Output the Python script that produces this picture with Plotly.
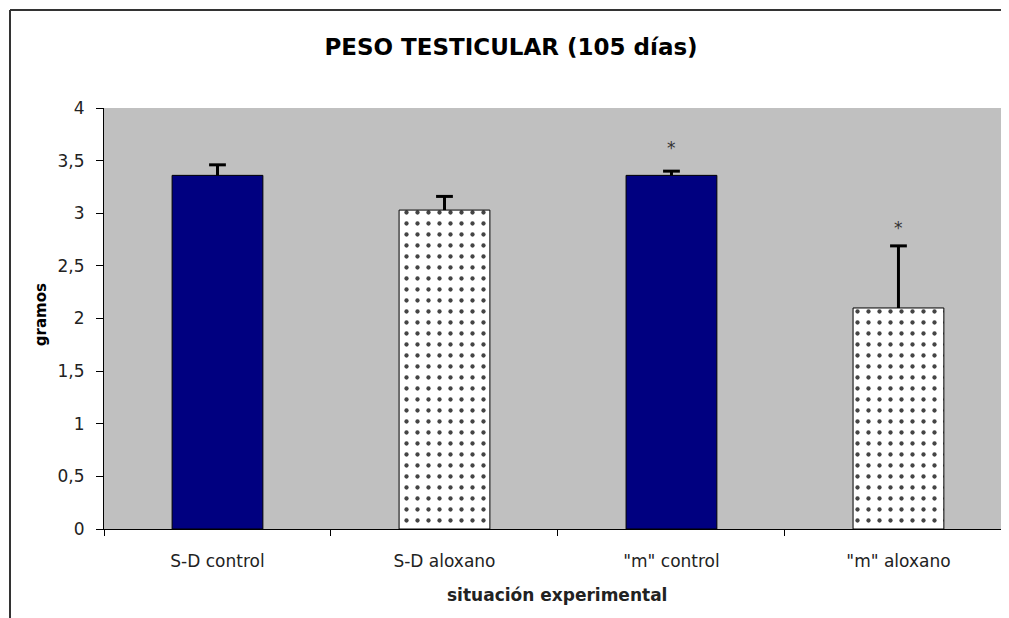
import plotly.graph_objects as go

categories = ["S-D control", "S-D aloxano", "\"m\" control", "\"m\" aloxano"]
values = [3.36, 3.03, 3.36, 2.10]
errors_up = [0.10, 0.13, 0.04, 0.59]
patterned = [False, True, False, True]
star_labels = ["", "", "*", "*"]
star_y = [None, None, 3.62, 2.86]
y_ticks = [0, 0.5, 1, 1.5, 2, 2.5, 3, 3.5, 4]

NAVY = "#000080"
FONT = "DejaVu Sans, Liberation Sans, sans-serif"

# page body has an 8px offset; figure sized so the plot sits where the reference has it
W, H = 1001, 610
ML, MT, MB = 96, 100, 89
PW, PH = W - ML, H - MT - MB

fig = go.Figure()
fig.add_trace(go.Bar(
    x=categories,
    y=values,
    marker=dict(
        color=["white" if p else NAVY for p in patterned],
        line=dict(color="black", width=1),
        pattern=dict(
            shape=["." if p else "" for p in patterned],
            fgcolor=NAVY,
            fgopacity=1,
            size=11,
            solidity=0.12,
            fillmode="overlay",
        ),
    ),
    showlegend=False,
    hoverinfo="x+y",
))

# upward-only error bars: stems from bar top to top + error, with a cap
stem_x, stem_y = [], []
for c, v, e in zip(categories, values, errors_up):
    stem_x += [c, c, None]
    stem_y += [v, v + e, None]
fig.add_trace(go.Scatter(
    x=stem_x, y=stem_y, mode="lines",
    line=dict(color="black", width=3),
    showlegend=False, hoverinfo="skip",
))
fig.add_trace(go.Scatter(
    x=categories, y=[v + e for v, e in zip(values, errors_up)], mode="markers",
    marker=dict(symbol="line-ew-open", size=12, color="black", line=dict(color="black", width=3)),
    showlegend=False, hoverinfo="skip",
))

for c, lab, yy in zip(categories, star_labels, star_y):
    if lab:
        fig.add_annotation(x=c, y=yy, text=lab, showarrow=False,
                           font=dict(family=FONT, size=17, color="#333333"))

# axis titles
fig.add_annotation(xref="paper", yref="paper", x=-63 / PW, y=0.508, text="<b>gramos</b>",
                   textangle=-90, showarrow=False, xanchor="center", yanchor="middle",
                   font=dict(family=FONT, size=15, color="black"))
fig.add_annotation(xref="paper", yref="paper", x=0.5, y=-66 / PH, text="<b>situación experimental</b>",
                   showarrow=False, xanchor="center", yanchor="middle",
                   font=dict(family=FONT, size=17, color="#222222"))

# outer chart border (left and top)
bx = -94 / PW
by = 1 + 98 / PH
fig.add_shape(type="line", xref="paper", yref="paper", x0=bx, x1=bx, y0=-0.5, y1=by,
              line=dict(color="#333333", width=2), layer="above")
fig.add_shape(type="line", xref="paper", yref="paper", x0=bx, x1=1.2, y0=by, y1=by,
              line=dict(color="#333333", width=2), layer="above")

fig.update_layout(
    width=W, height=H,
    margin=dict(l=ML, r=0, t=MT, b=MB),
    paper_bgcolor="white",
    plot_bgcolor="#C0C0C0",
    bargap=0.60,
    separators=",.",
    font=dict(family=FONT, size=16, color="#222222"),
    title=dict(text="<b>PESO TESTICULAR (105 días)</b>", x=0.5025, xanchor="center",
               y=1 - 39 / H, yanchor="middle",
               font=dict(family=FONT, size=23, color="black")),
    xaxis=dict(
        range=[-0.5, 3.487],
        showline=True, linecolor="black", linewidth=1,
        ticks="outside", ticklen=6, tickcolor="black",
        tickson="boundaries",
        ticklabelstandoff=17,
        showgrid=False,
        tickfont=dict(family=FONT, size=17, color="#222222"),
    ),
    yaxis=dict(
        range=[0, 4],
        tickvals=y_ticks,
        showline=True, linecolor="black", linewidth=1,
        ticks="outside", ticklen=7, tickcolor="black",
        ticklabelstandoff=8,
        showgrid=False, zeroline=False,
        tickfont=dict(family=FONT, size=17, color="#222222"),
    ),
)

fig.write_html("out.html")
